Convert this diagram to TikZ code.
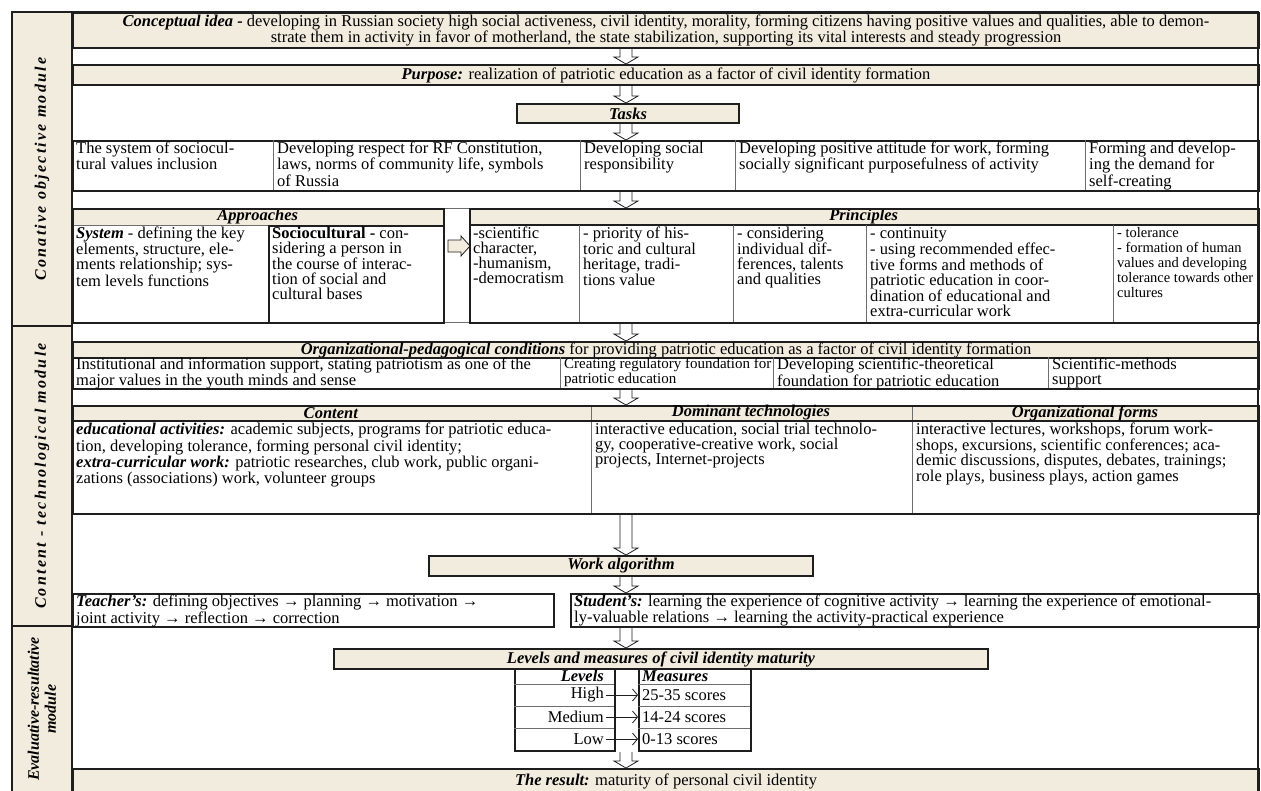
\documentclass[tikz,border=0pt]{standalone}
\usepackage{fontspec}
\setmainfont{Liberation Serif}
\usetikzlibrary{calc,arrows.meta}
\definecolor{FrameBeige}{RGB}{242,236,223}
\definecolor{LineGray}{RGB}{110,110,110}
\definecolor{LineDark}{RGB}{30,30,30}
\newcommand{\hd}[1]{\textbf{\textit{#1}}}
% wide hollow arrow going down between two rows
\newcommand{\downblock}[3]{%
  \draw[blockarrow] let \p1=(#1.south), \p2=(#2.north) in
    ({(#3-6)*1pt},\y1) -- ({(#3-6)*1pt},{\y2+7pt}) -- ({(#3-12)*1pt},{\y2+7pt}) -- ({#3*1pt},\y2)
    -- ({(#3+12)*1pt},{\y2+7pt}) -- ({(#3+6)*1pt},{\y2+7pt}) -- ({(#3+6)*1pt},\y1);}
% wide arrow going right
\newcommand{\rightblock}[3]{%
  \draw[blockarrow, fill=FrameBeige] let \p1=(#1.east), \p2=(#2.west) in
    ({\x1+3pt},{(-#3+6)*1pt}) -- ({\x2-8pt},{(-#3+6)*1pt}) -- ({\x2-8pt},{(-#3+10)*1pt}) -- ({\x2+1pt},{-#3*1pt})
    -- ({\x2-8pt},{(-#3-10)*1pt}) -- ({\x2-8pt},{(-#3-6)*1pt}) -- ({\x1+3pt},{(-#3-6)*1pt}) -- cycle;}

\begin{document}
\begin{tikzpicture}[x=1pt, y=-1pt,
    every node/.style={font=\fontsize{16.5}{15}\selectfont},
    band/.style={draw=LineDark, line width=2pt, fill=FrameBeige, anchor=north west,
                 inner sep=0pt, align=center},
    hdfill/.style={fill=FrameBeige, anchor=north west, inner sep=0pt},
    frame/.style={draw=LineDark, line width=2pt, anchor=north west, inner sep=0pt},
    thinbox/.style={draw=LineGray, line width=0.8pt, anchor=north west, inner sep=0pt},
    modbox/.style={draw=LineDark, line width=2pt, fill=FrameBeige, rotate=90,
                   minimum height=60, inner sep=0pt, align=center,
                   font=\fontsize{16}{17}\selectfont\bfseries\itshape},
    spaced/.style={font=\fontsize{16}{17}\selectfont\bfseries\itshape\addfontfeatures{LetterSpace=14}},
    cell/.style={anchor=north west, align=left, inner xsep=4pt, inner ysep=2pt},
    divider/.style={LineGray, line width=0.8pt},
    heavy/.style={LineDark, line width=2pt},
    blockarrow/.style={draw=LineDark, line width=0.8pt, fill=white},
    levelarrow/.style={-{Straight Barb[length=5pt,width=12pt]}, line width=0.8pt, LineDark}
]
\useasboundingbox (0,0) rectangle (1261,790);
\fill[white] (0,0) rectangle (1261,790);

% modules
\node[modbox, spaced, minimum width=314] (conative) at (42,169) {Conative objective module};
\node[modbox, spaced, minimum width=300] (contech) at (42,476) {Content - technological module};
\node[modbox, minimum width=166] (evalres) at (42,709) {Evaluative-resultative\\module};

% conative objective module
\node[band, minimum width=1186, minimum height=35] (concept) at (72,12) {\hd{Conceptual idea -} developing in Russian society high social activeness, civil identity, morality, forming citizens having positive values and qualities, able to demon-\\strate them in activity in favor of motherland, the state stabilization, supporting its vital interests and steady progression};
\node[band, minimum width=1186, minimum height=20] (purpose) at (72,64) {\hd{Purpose:} realization of patriotic education as a factor of civil identity formation};
\node[band, minimum width=222, minimum height=19] (tasks) at (516,103) {\hd{Tasks}};

\node[frame, minimum width=1186, minimum height=50] (taskrow) at (72,140) {};
\foreach \x in {273,580,735,1085} \draw[divider] (\x,140) -- (\x,190);
\node[cell] (task1) at (72,140) {The system of sociocul-\\tural values inclusion};
\node[cell] (task2) at (273,140) {Developing respect for RF Constitution,\\laws, norms of community life, symbols\\of Russia};
\node[cell] (task3) at (580,140) {Developing social\\responsibility};
\node[cell] (task4) at (735,140) {Developing positive attitude for work, forming\\socially significant purposefulness of activity};
\node[cell] (task5) at (1085,140) {Forming and develop-\\ing the demand for\\self-creating};

\node[hdfill, minimum width=371, minimum height=17] (apphead) at (72,208) {\hd{Approaches}};
\node[hdfill, minimum width=789, minimum height=17] (prinhead) at (469,208) {\hd{Principles}};
\node[thinbox, minimum width=26, minimum height=114] (gapcol) at (443,208) {};
\draw[divider] (72,225) -- (268,225);
\draw[heavy] (469,225) -- (1258,225);
\foreach \x in {579,733,866,1113} \draw[divider] (\x,225) -- (\x,322);
\node[frame, minimum width=371, minimum height=114] (appframe) at (72,208) {};
\node[frame, minimum width=789, minimum height=114] (prinframe) at (469,208) {};
\node[frame, minimum width=175, minimum height=97] (socio) at (268,225) {};
\node[cell] (system) at (72,225) {\hd{System} - defining the key\\elements, structure, ele-\\ments relationship; sys-\\tem levels functions};
\node[cell] (sociotext) at (268,225) {\textbf{Sociocultural -} con-\\sidering a person in\\the course of interac-\\tion of social and\\cultural bases};
\node[cell] (prin1) at (469,225) {-scientific\\character,\\-humanism,\\-democratism};
\node[cell] (prin2) at (579,225) {- priority of his-\\toric and cultural\\heritage, tradi-\\tions value};
\node[cell] (prin3) at (733,225) {- considering\\individual dif-\\ferences, talents\\and qualities};
\node[cell] (prin4) at (866,225) {- continuity\\- using recommended effec-\\tive forms and methods of\\patriotic education in coor-\\dination of educational and\\extra-curricular work};
\node[cell, font=\fontsize{14.5}{15}\selectfont] (prin5) at (1113,225) {- tolerance\\- formation of human\\values and developing\\tolerance towards other\\cultures};

% content - technological module
\node[band, minimum width=1186, minimum height=16] (orghead) at (72,341) {\hd{Organizational-pedagogical conditions} for providing patriotic education as a factor of civil identity formation};
\node[frame, minimum width=1186, minimum height=31] (orgrow) at (72,357) {};
\foreach \x in {560,773,1048} \draw[divider] (\x,357) -- (\x,388);
\node[cell, inner ysep=1pt] (org1) at (72,357) {Institutional and information support, stating patriotism as one of the\\major values in the youth minds and sense};
\node[cell, inner ysep=1pt, font=\fontsize{15}{15}\selectfont] (org2) at (560,357) {Creating regulatory foundation for\\patriotic education};
\node[cell, inner ysep=1pt] (org3) at (773,357) {Developing scientific-theoretical\\foundation for patriotic education};
\node[cell, inner ysep=1pt] (org4) at (1048,357) {Scientific-methods\\support};

\node[hdfill, minimum width=1186, minimum height=16] (conthead) at (72,405) {};
\foreach \x in {591,912} \draw[divider] (\x,405) -- (\x,513);
\draw[heavy] (72,421) -- (1258,421);
\node[frame, minimum width=1186, minimum height=108] (contframe) at (72,405) {};
\node (headcontent) at (331,413) {\hd{Content}};
\node (headtech) at (751,413) {\hd{Dominant technologies}};
\node (headforms) at (1085,413) {\hd{Organizational forms}};
\node[cell] (content) at (72,421) {\hd{educational activities:} academic subjects, programs for patriotic educa-\\tion, developing tolerance, forming personal civil identity;\\\hd{extra-curricular work:} patriotic researches, club work, public organi-\\zations (associations) work, volunteer groups};
\node[cell] (tech) at (591,421) {interactive education, social trial technolo-\\gy, cooperative-creative work, social\\projects, Internet-projects};
\node[cell] (forms) at (912,421) {interactive lectures, workshops, forum work-\\shops, excursions, scientific conferences; aca-\\demic discussions, disputes, debates, trainings;\\role plays, business plays, action games};

\node[band, minimum width=384, minimum height=20] (work) at (428,555) {\hd{Work algorithm}};
\node[frame, minimum width=481, minimum height=33] (teacher) at (72,593) {};
\node[frame, minimum width=688, minimum height=33] (student) at (570,593) {};
\node[cell] (teachertext) at (72,593) {\hd{Teacher’s:} defining objectives → planning → motivation →\\joint activity → reflection → correction};
\node[cell] (studenttext) at (570,593) {\hd{Student’s:} learning the experience of cognitive activity → learning the experience of emotional-\\ly-valuable relations → learning the activity-practical experience};

% evaluative-resultative module
\node[band, minimum width=654, minimum height=20] (levels) at (333,648) {\hd{Levels and measures of civil identity maturity}};
\node[frame, minimum width=100, minimum height=82] (lvcol) at (514,668) {};
\node[frame, minimum width=112, minimum height=82] (mscol) at (638,668) {};
\foreach \y in {684,706,728} {
  \draw[divider] (514,\y) -- (614,\y);
  \draw[divider] (638,\y) -- (750,\y);
}
\node[anchor=east, inner sep=2pt] (lvhead) at (606,676) {\hd{Levels}};
\node[anchor=east, inner sep=2pt] (lvhigh) at (606,695) {High};
\node[anchor=east, inner sep=2pt] (lvmedium) at (606,717) {Medium};
\node[anchor=east, inner sep=2pt] (lvlow) at (606,739) {Low};
\node[anchor=west, inner sep=4pt] (mshead) at (638,676) {\hd{Measures}};
\node[anchor=west, inner sep=4pt] (mshigh) at (638,695) {25-35 scores};
\node[anchor=west, inner sep=4pt] (msmedium) at (638,717) {14-24 scores};
\node[anchor=west, inner sep=4pt] (mslow) at (638,739) {0-13 scores};
\draw[levelarrow] (lvhigh.east) -- (mshigh.west);
\draw[levelarrow] (lvmedium.east) -- (msmedium.west);
\draw[levelarrow] (lvlow.east) -- (mslow.west);

\node[band, minimum width=1186, minimum height=24] (result) at (72,768) {\hd{The result:} maturity of personal civil identity};

% outline of the main field
\draw[heavy] (72,12) rectangle (1258,792);

% arrows between the rows
\downblock{concept}{purpose}{626}
\downblock{purpose}{tasks}{626}
\downblock{tasks}{taskrow}{626}
\downblock{taskrow}{prinframe}{626}
\downblock{prinframe}{orghead}{626}
\downblock{orgrow}{contframe}{626}
\downblock{contframe}{work}{626}
\downblock{work}{student}{626}
\downblock{student}{levels}{626}
\downblock{lvcol}{result}{626}
\rightblock{socio}{prinframe}{246}

\end{tikzpicture}
\end{document}
